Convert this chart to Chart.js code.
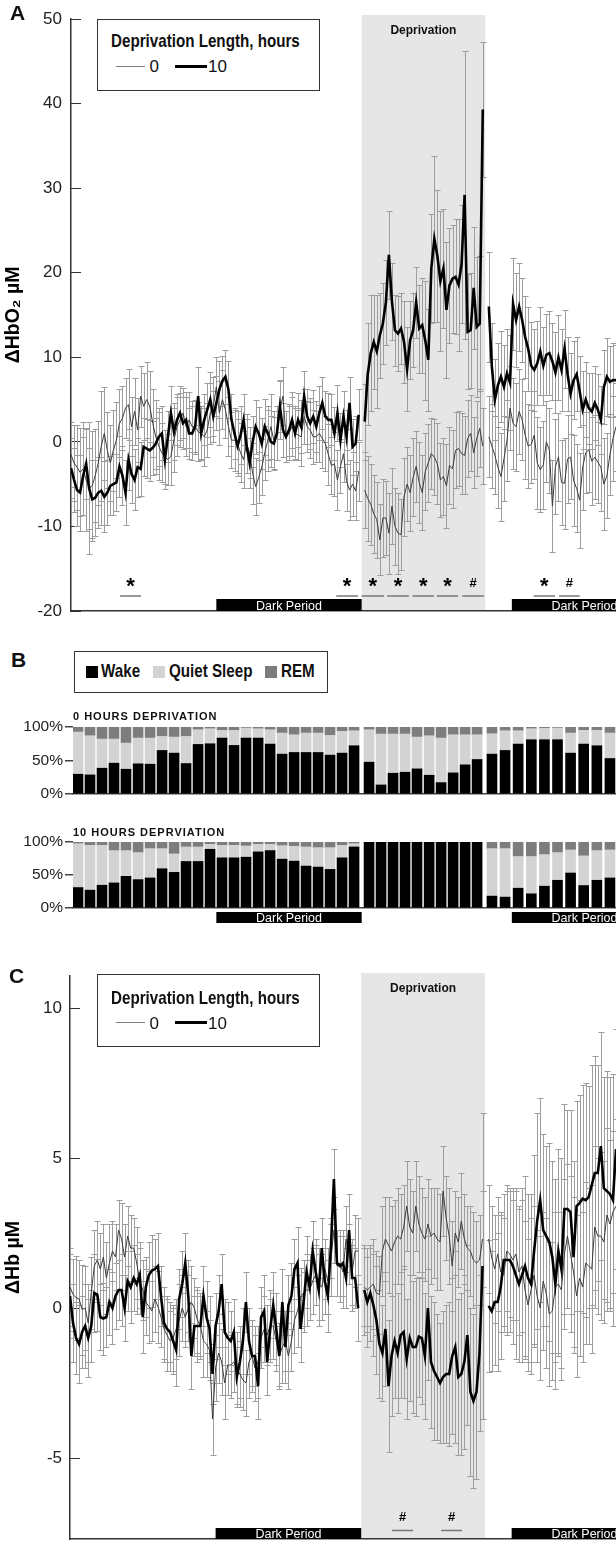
<!DOCTYPE html>
<html lang="en">
<head>
<meta charset="utf-8">
<title>HbO2 / Hb and sleep deprivation</title>
<script src="https://cdn.jsdelivr.net/npm/chart.js@4.4.1/dist/chart.umd.min.js"></script>
<style>
html, body { margin: 0; padding: 0; width: 616px; height: 1541px; overflow: hidden; background: #fff; }
body { position: relative; color: #111; font-family: "Liberation Sans", Arial, sans-serif; }
canvas { position: absolute; left: 0; }
.letter { position: absolute; font: bold 21px/21px "Liberation Sans", Arial, sans-serif; }
.box { position: absolute; box-sizing: border-box; border: 1.5px solid #333; background: #fff; }
.abs { position: absolute; white-space: nowrap; line-height: 1; }
.narrow { font-family: "Liberation Sans Narrow", "Arial Narrow", "Liberation Sans", sans-serif; font-weight: bold; font-size: 18.5px; }
.fake-narrow .narrow { font-family: "Liberation Sans", Arial, sans-serif; transform: scaleX(0.82); transform-origin: left top; }
.reg { font-size: 17px; }
.sq { position: absolute; width: 12px; height: 12px; }
</style>
</head>
<body>
<canvas id="chartA" width="616" height="625" style="top:0"></canvas>
<canvas id="chartB0" width="616" height="110" style="top:700px"></canvas>
<canvas id="chartB10" width="616" height="115" style="top:815px"></canvas>
<canvas id="chartC" width="616" height="620" style="top:940px"></canvas>

<div class="letter" style="left:10px;top:2px">A</div>
<div class="letter" style="left:11px;top:649px">B</div>
<div class="letter" style="left:9px;top:965px">C</div>

<div class="box" style="left:97px;top:19px;width:223px;height:72px">
  <div class="abs narrow" style="left:12.5px;top:12px">Deprivation Length, hours</div>
  <div class="abs" style="left:17.5px;top:45.7px;width:29px;height:1px;background:#808080"></div>
  <div class="abs reg" style="left:51.5px;top:38.3px">0</div>
  <div class="abs" style="left:76.5px;top:44.7px;width:32px;height:3px;background:#000"></div>
  <div class="abs reg" style="left:110px;top:38.3px">10</div>
</div>

<div class="box" style="left:74px;top:651px;width:254px;height:42px">
  <div class="sq" style="left:10.5px;top:13.5px;background:#000"></div>
  <div class="abs narrow" style="left:25.5px;top:10.1px">Wake</div>
  <div class="sq" style="left:77.8px;top:13.5px;background:#d3d3d3"></div>
  <div class="abs narrow" style="left:93.8px;top:10.1px">Quiet Sleep</div>
  <div class="sq" style="left:189.5px;top:13.5px;background:#7d7d7d"></div>
  <div class="abs narrow" style="left:205.5px;top:10.1px">REM</div>
</div>

<div class="box" style="left:97px;top:974px;width:223px;height:73px">
  <div class="abs narrow" style="left:12.5px;top:13.8px">Deprivation Length, hours</div>
  <div class="abs" style="left:17.5px;top:47.3px;width:29px;height:1px;background:#808080"></div>
  <div class="abs reg" style="left:51.5px;top:39.6px">0</div>
  <div class="abs" style="left:76.5px;top:46.3px;width:32px;height:3px;background:#000"></div>
  <div class="abs reg" style="left:110px;top:39.6px">10</div>
</div>

<script>
// 15-min bins, hours from start of recording
const hours = Array.from({ length: 181 }, (_, i) => i / 4);

// A: ΔHbO2 (µM), mean and SEM, null = break between recording blocks
const hbo2Zero = [
  -1.5, -2.5, -3.0, -3.6, -3.2, -4.5, -5.5, -5.2, -4.0, -2.5,
  -0.5, 1.0, -1.0, -2.5, -1.0, 0.2, 2.2, 2.8, 4.0, 4.4,
  1.8, 3.6, 1.4, 5.4, 4.2, 5.0, 4.2, 2.2, 0.6, -0.5,
  -1.3, -1.8, -2.1, -1.7, 0.2, 1.8, 2.6, 3.4, 1.8, 2.6,
  1.8, 1.8, 1.2, 1.0, 0.6, 1.4, 3.4, 4.2, 6.5, 3.4,
  5.0, 3.8, 1.8, 0.2, 0.2, -0.2, -1.3, -2.1, -0.2, -1.3,
  -3.7, -5.3, -4.2, -3.0, -1.3, 0.2, 1.8, 0.2, 1.0, 3.8,
  5.4, 0.6, 1.0, 1.8, 1.0, 0.8, 0.6, 3.0, 1.8, 1.4,
  0.6, 0.6, 1.0, 0.4, -0.2, -1.5, -2.8, -2.6, -4.5, -2.9,
  -1.4, -4.6, -5.7, -5.0, -5.8, -3.5,
  null,
  -5.7, -6.7, -7.4, -8.5, -9.2, -11.6, -9.0, -9.0, -10.8, -7.6,
  -10.0, -10.8, -11.0, -6.5, -5.0, -6.0, -4.2, -2.9, -4.8, -6.0,
  -3.5, -2.5, -1.4, -1.8, -2.6, -4.5, -4.1, -5.2, -2.8, -3.2,
  -1.0, -0.8, -1.4, -1.6, 0.4, 1.0, -1.3, 0.4, 1.6, -0.5,
  null,
  0.6, -0.5, -1.6, -3.0, -4.1, -2.0, 0.2, 4.0, 2.2, 1.8,
  3.6, 2.6, 0.8, -0.5, -0.3, 0.8, -2.5, -3.3, -2.7, 0.0,
  -1.0, -7.6, -2.9, -1.8, -4.8, -4.9, -2.0, -1.8, -4.6, -5.5,
  -6.9, -3.0, -1.3, -0.9, -2.3, -1.8, -2.4, -3.0, -5.0, -4.0,
  -1.5, 0.4, 1.8
];
const hbo2ZeroSem = [
  3.8, 4.5, 5.0, 5.2, 5.5, 6.0, 7.8, 6.5, 5.5, 5.0,
  6.5, 5.5, 4.5, 4.5, 4.8, 4.5, 4.0, 3.8, 3.5, 4.2,
  3.5, 4.0, 3.8, 3.6, 4.0, 4.5, 4.2, 4.0, 4.4, 4.0,
  3.5, 3.2, 3.0, 3.4, 3.8, 3.5, 3.2, 3.0, 3.5, 3.3,
  3.0, 3.2, 3.5, 3.0, 3.4, 3.2, 3.6, 3.5, 3.5, 3.8,
  3.5, 3.4, 3.5, 3.3, 3.6, 3.8, 3.5, 3.4, 3.5, 3.0,
  3.6, 3.4, 3.0, 3.3, 3.2, 3.6, 3.8, 3.4, 3.2, 3.5,
  3.4, 3.0, 3.2, 3.5, 3.2, 3.0, 3.4, 3.2, 3.0, 3.3,
  3.2, 3.0, 3.4, 3.5, 3.2, 3.6, 3.4, 3.8, 3.5, 3.2,
  3.4, 3.6, 3.5, 3.8, 3.4, 3.5,
  null,
  4.5, 5.0, 4.8, 4.6, 4.5, 4.2, 4.6, 4.4, 4.8, 4.5,
  4.6, 4.8, 4.2, 4.6, 4.4, 4.5, 4.6, 4.2, 4.8, 4.4,
  4.5, 4.6, 4.2, 4.5, 4.8, 4.4, 4.6, 5.0, 4.5, 4.6,
  4.5, 4.4, 4.8, 4.6, 4.5, 4.5, 4.2, 4.4, 4.6, 4.5,
  null,
  4.8, 5.0, 4.6, 4.8, 5.2, 5.0, 4.8, 5.0, 5.4, 5.2,
  5.0, 4.8, 5.2, 5.0, 4.6, 5.2, 5.4, 5.0, 5.2, 4.8,
  5.0, 5.4, 5.6, 5.2, 5.0, 5.4, 5.2, 5.0, 5.4, 5.2,
  5.6, 5.0, 4.8, 5.0, 5.2, 5.0, 4.8, 5.2, 5.4, 5.0,
  4.8, 5.0, 5.2
];
const hbo2Ten = [
  -3.1, -4.5, -5.7, -6.0, -4.0, -2.6, -5.5, -6.8, -6.6, -6.0,
  -5.8, -6.5, -6.0, -5.2, -5.0, -4.8, -2.9, -4.0, -6.0, -2.1,
  -3.8, -4.5, -3.0, -3.2, -0.6, -0.8, -1.0, -0.7, -0.2, 0.6,
  1.0, -2.1, 0.6, 3.4, 1.2, 2.6, 3.4, 2.2, 2.6, 1.0,
  1.0, 1.8, 5.4, 1.0, 2.6, 3.8, 5.0, 3.0, 4.6, 6.2,
  7.2, 7.7, 6.2, 2.6, 1.0, -0.5, 0.8, 2.6, -0.5, -2.5,
  0.0, 1.8, 1.0, -0.2, 1.8, 1.0, 0.0, -0.2, 1.0, 4.2,
  1.4, 0.6, 1.4, 2.6, 1.0, 2.6, 1.8, 5.4, 3.0, 2.2,
  3.0, 1.8, 3.4, 4.6, 3.0, 2.6, 2.6, 1.0, 3.4, 0.2,
  3.0, 0.6, 4.6, -0.6, -0.2, 3.2,
  null,
  2.4, 8.0, 10.5, 11.8, 10.7, 12.6, 14.0, 16.5, 22.1, 16.6,
  13.2, 12.8, 13.4, 11.8, 8.6, 12.0, 13.2, 16.5, 13.4, 13.8,
  12.0, 9.7, 20.5, 24.0, 22.0, 19.0, 20.5, 15.6, 18.5, 19.3,
  19.5, 18.6, 21.0, 29.2, 13.0, 13.2, 18.2, 13.6, 14.0, 39.3,
  null,
  16.0, 8.9, 5.0, 6.7, 7.7, 6.5, 8.1, 7.0, 16.3, 14.4,
  16.0, 14.4, 12.4, 11.0, 9.0, 8.5, 9.3, 10.7, 9.0, 10.3,
  10.5, 9.5, 8.2, 10.0, 8.5, 11.0, 8.0, 5.7, 7.3, 8.0,
  6.0, 3.8, 5.0, 4.0, 3.6, 4.6, 3.8, 2.6, 6.5, 7.7,
  7.1, 7.3, 7.3
];
const hbo2TenSem = [
  3.5, 3.8, 4.2, 4.5, 4.6, 4.2, 4.8, 4.6, 4.5, 4.2,
  4.0, 4.2, 3.8, 3.5, 3.6, 3.4, 3.6, 3.5, 3.8, 3.6,
  3.4, 3.6, 3.5, 3.2, 3.4, 3.5, 3.6, 3.2, 3.0, 3.4,
  3.2, 3.5, 3.0, 3.2, 3.4, 3.0, 3.2, 3.1, 3.3, 3.0,
  3.2, 3.0, 3.4, 3.2, 3.0, 3.2, 3.3, 3.0, 3.2, 3.4,
  3.0, 3.2, 3.4, 3.1, 3.0, 3.2, 3.4, 3.0, 3.2, 3.0,
  3.0, 3.2, 3.1, 3.0, 3.3, 3.2, 3.0, 3.1, 3.2, 3.0,
  3.2, 3.0, 3.1, 3.3, 3.0, 3.2, 3.1, 3.0, 3.2, 3.0,
  3.1, 3.0, 3.2, 3.1, 3.0, 3.2, 3.0, 3.1, 3.3, 3.2,
  3.0, 3.2, 3.1, 3.3, 3.2, 3.0,
  null,
  4.5, 6.0, 6.9, 5.6, 6.7, 5.0, 4.8, 5.0, 5.2, 4.6,
  4.2, 4.4, 4.2, 4.8, 5.0, 4.6, 4.4, 4.2, 5.2, 5.6,
  7.0, 6.0, 6.4, 9.8, 7.8, 8.3, 7.0, 8.0, 6.8, 6.4,
  6.8, 7.8, 7.0, 17.0, 6.8, 6.8, 7.2, 8.3, 8.0, 8.0,
  null,
  6.5, 5.2, 4.8, 5.0, 5.4, 5.0, 5.2, 5.6, 5.4, 5.6,
  5.2, 5.0, 4.8, 5.0, 5.2, 4.8, 5.0, 5.2, 4.6, 4.8,
  5.0, 4.6, 4.8, 5.0, 4.8, 4.6, 4.4, 4.8, 4.6, 4.4,
  4.2, 4.6, 4.4, 4.2, 4.5, 4.4, 4.2, 4.0, 4.4, 4.6,
  4.2, 4.4, 4.2
];

// C: ΔHb (µM)
const hbZero = [
  0.7, 0.45, 0.35, 0.3, -0.05, 0.0, -0.5, 0.5, 1.4, 1.6,
  1.3, 1.7, 1.0, 1.5, 1.9, 1.7, 2.6, 2.3, 1.7, 2.4,
  2.0, 2.0, 1.5, 0.9, 0.6, 0.2, 0.05, -0.1, 0.3, 0.05,
  -0.3, -0.7, -0.9, -1.1, -1.0, -0.7, -0.4, 0.0, -0.3, 0.0,
  0.2, 0.0, -0.4, -0.6, -1.1, -1.2, -1.4, -3.7, -2.0, -1.5,
  -1.8, -2.5, -1.9, -1.9, -1.8, -2.0, -2.2, -2.4, -2.5, -1.8,
  -1.6, -2.0, -1.8, -1.0, -0.7, -0.9, -0.6, -0.6, -1.1, -1.6,
  -1.3, -1.1, -1.6, -1.1, -0.4, -0.1, 0.35, 0.5, 0.6, 0.6,
  0.9, 1.1, 0.8, 0.7, 1.3, 0.9, 1.6, 2.6, 1.4, 1.5,
  1.2, 2.3, 1.8, 1.2, 1.9, 1.9,
  null,
  0.7, 0.6, 0.7, 0.8, 0.5, 0.45, 1.9, 2.3, 2.1, 1.9,
  2.2, 2.4, 2.3, 2.7, 3.4, 2.7, 2.5, 3.4, 2.8, 2.5,
  2.3, 2.8, 2.4, 2.5, 2.3, 2.2, 3.9, 3.0, 2.4, 1.4,
  2.5, 2.2, 2.9, 2.3, 2.0, 1.9, 1.6, 1.5, 1.6, 2.3,
  null,
  2.3, 1.7, 1.3, 1.8, 1.2, 1.1, 1.9, 1.8, 1.6, 1.8,
  1.2, 1.4, 0.6, 0.1, 0.6, 1.1, 0.4, 0.0, 0.9, 0.5,
  -0.2, -0.1, 0.7, 0.8, 0.6, 1.8, 2.4, 1.8, 1.2, 0.4,
  1.0, 0.7, 1.5, 1.4, 1.3, 2.7, 2.4, 2.4, 2.2, 3.1,
  2.8, 3.2, 3.4
];
const hbZeroSem = [
  1.3, 1.2, 1.4, 1.3, 1.5, 1.4, 1.3, 1.2, 1.2, 1.3,
  1.2, 1.1, 1.2, 1.3, 1.0, 1.1, 1.0, 1.2, 1.1, 1.0,
  1.1, 1.0, 1.2, 1.1, 1.0, 1.1, 1.2, 1.0, 1.1, 1.2,
  1.0, 1.1, 1.2, 1.0, 1.1, 1.0, 1.2, 1.1, 1.0, 1.1,
  1.2, 1.0, 1.1, 1.0, 1.2, 1.1, 1.0, 1.2, 1.1, 1.0,
  1.1, 1.2, 1.0, 1.1, 1.0, 1.2, 1.1, 1.0, 1.1, 1.2,
  1.0, 1.1, 1.2, 1.0, 1.1, 1.0, 1.2, 1.1, 1.0, 1.1,
  1.2, 1.0, 1.1, 1.0, 1.1, 1.2, 1.0, 1.1, 1.2, 1.0,
  1.1, 1.0, 1.2, 1.1, 1.0, 1.1, 1.2, 1.1, 1.0, 1.1,
  1.2, 1.1, 1.0, 1.1, 1.2, 1.1,
  null,
  1.3, 1.4, 1.3, 1.5, 1.4, 1.3, 1.5, 1.4, 1.6, 1.5,
  1.4, 1.6, 1.5, 1.4, 1.5, 1.6, 1.4, 1.5, 1.6, 1.5,
  1.4, 1.5, 1.6, 1.5, 1.7, 1.6, 1.5, 1.4, 1.6, 1.5,
  1.4, 1.5, 1.6, 1.5, 1.4, 1.5, 1.6, 1.4, 1.5, 1.6,
  null,
  1.8, 1.7, 1.8, 1.9, 2.0, 1.9, 2.0, 2.1, 2.0, 2.2,
  2.1, 2.2, 2.3, 2.2, 2.4, 2.3, 2.2, 2.4, 2.3, 2.5,
  2.4, 2.3, 2.5, 2.4, 2.6, 2.5, 2.4, 2.6, 2.5, 2.7,
  2.6, 2.5, 2.7, 2.6, 2.8, 2.7, 2.6, 2.8, 2.7, 2.9,
  2.8, 2.7, 2.9
];
const hbTen = [
  0.4, -0.5, -1.0, -1.2, -0.8, -0.6, -1.0, -0.6, 0.5, 0.45,
  -0.3, -0.35, -0.3, 0.2, 0.0, 0.4, 0.6, 0.6, 0.0, 0.9,
  0.7, 1.0, 0.8, 1.1, -0.3, 0.7, 1.1, 1.25, 1.3, 1.4,
  0.4, -0.5, -0.7, -0.8, -1.1, -1.4, 0.3, 0.8, 1.5, 0.4,
  -1.6, -0.6, -0.6, -0.6, 0.4, -0.3, -0.7, -2.2, -0.6, -0.1,
  0.8, -0.8, -1.0, -1.1, -0.8, -2.3, -1.8, -1.1, 0.2, -1.1,
  -1.6, -1.6, -2.6, -0.3, -0.1, -1.8, -0.7, 0.1, -0.7, -1.6,
  0.2, -1.3, 0.1, 0.4, 1.3, 1.5, -0.7, 0.2, 1.2, 0.7,
  1.9, 1.2, 0.6, 2.0, 0.9, 0.4, 2.0, 4.3, 1.5, 1.4,
  1.5, 1.0, 2.6, 1.0, 1.0, 0.0,
  null,
  0.6, 0.2, 0.5, 0.1, -0.4, -1.2, -1.5, -0.7, -2.6, -1.6,
  -1.1, -1.5, -0.9, -0.8, -1.7, -1.0, -1.3, -1.3, -0.95, -1.0,
  -1.6, 0.0, -1.8, -2.1, -2.3, -2.5, -2.3, -2.2, -2.2, -1.6,
  -1.3, -2.3, -2.2, -1.8, -0.9, -2.8, -3.1, -2.8, -1.5, 1.4,
  null,
  0.07, -0.1, 0.2, 0.2, 0.7, 1.6, 1.6, 1.6, 1.4, 1.1,
  0.8, 1.1, 1.4, 1.0, 0.8, 1.9, 2.9, 3.6, 2.6, 2.4,
  2.2, 1.7, 0.8, 1.9, 1.3, 3.3, 3.3, 3.2, 1.7, 3.4,
  3.5, 3.65, 3.6, 3.7, 4.1, 4.5, 4.5, 5.4, 4.0, 3.9,
  3.8, 3.6, 5.3
];
const hbTenSem = [
  1.4, 1.3, 1.2, 1.3, 1.2, 1.4, 1.3, 1.2, 1.3, 1.2,
  1.1, 1.2, 1.0, 1.1, 1.2, 1.1, 1.0, 1.2, 1.1, 1.0,
  1.2, 1.1, 1.0, 1.1, 1.2, 1.0, 1.1, 1.2, 1.0, 1.1,
  1.0, 1.2, 1.1, 1.0, 1.1, 1.2, 1.0, 1.1, 1.0, 1.2,
  1.1, 1.0, 1.2, 1.1, 1.0, 1.2, 1.1, 1.0, 1.1, 1.2,
  1.0, 1.1, 1.2, 1.0, 1.1, 1.0, 1.2, 1.1, 1.0, 1.1,
  1.2, 1.0, 1.1, 1.0, 1.2, 1.1, 1.0, 1.1, 1.2, 1.0,
  1.1, 1.2, 1.0, 1.1, 1.0, 1.2, 1.1, 1.0, 1.2, 1.1,
  1.0, 1.1, 1.2, 1.0, 1.1, 1.2, 1.0, 1.0, 1.1, 1.2,
  1.1, 1.0, 1.2, 1.1, 1.0, 1.1,
  null,
  1.5, 1.5, 1.6, 1.7, 1.8, 1.8, 1.6, 1.9, 2.2, 2.0,
  1.9, 2.0, 2.1, 2.2, 2.0, 2.1, 2.2, 2.3, 2.0, 2.2,
  2.1, 2.4, 2.2, 2.3, 2.1, 2.0, 2.2, 2.3, 2.4, 2.6,
  3.2, 2.6, 2.7, 2.9, 3.0, 2.8, 2.9, 2.9, 2.6, 5.1,
  null,
  2.2, 2.0, 2.1, 2.3, 2.4, 2.2, 2.5, 2.4, 2.6, 2.8,
  2.6, 2.9, 3.0, 2.8, 3.0, 3.2, 3.6, 3.4, 3.2, 3.0,
  3.3, 3.2, 3.5, 3.4, 3.7, 3.5, 3.3, 3.4, 3.2, 3.5,
  3.6, 3.8, 3.9, 3.7, 4.0, 3.9, 3.6, 3.8, 3.7, 4.0,
  3.9, 4.2, 4.0
];

// B: % of each hourly bin spent in each state
const sleepStates = ["Wake", "Quiet Sleep", "REM"];
const sleepHours = [
  0.58, 1.57, 2.56, 3.55, 4.54, 5.54, 6.53, 7.52, 8.51, 9.50, 10.49, 11.48,
  12.47, 13.46, 14.45, 15.45, 16.44, 17.43, 18.42, 19.41, 20.40, 21.39, 22.38, 23.37,
  24.61, 25.60, 26.59, 27.58, 28.57, 29.57, 30.56, 31.55, 32.54, 33.53,
  34.76, 35.84, 36.92, 38.01, 39.09, 40.17, 41.25, 42.33, 43.42, 44.50
];
const wake0 = [
  29.5, 28.5, 38.5, 46, 37, 45, 44.5, 65, 61, 45.5, 74, 75,
  83.5, 72.5, 83.5, 83.5, 74.5, 59.5, 62, 62, 62, 58, 61, 72,
  47.5, 13.5, 31, 32.5, 37.5, 28, 17, 31.5, 43.5, 51.5,
  59.5, 65, 74.5, 81, 81, 81, 61, 74.5, 72, 53
];
const quiet0 = [
  63, 58.5, 43.5, 36, 39, 38.5, 39, 21, 24, 40.5, 22, 22.5,
  11.5, 22.5, 15, 14, 21.5, 31.5, 26.5, 29, 29, 29.5, 32.5, 22.5,
  48.5, 76, 58.5, 57, 47.5, 59, 66.5, 57, 45, 37,
  30.5, 29.5, 20, 16.5, 17, 17.5, 30, 20.5, 23, 38
];
const rem0 = [
  7.5, 13, 18, 18, 24, 16.5, 16.5, 14, 15, 14, 4, 2.5,
  5, 5, 1.5, 2.5, 4, 9, 11.5, 9, 9, 12.5, 6.5, 5.5,
  4, 10.5, 10.5, 10.5, 15, 13, 16.5, 11.5, 11.5, 11.5,
  10, 5.5, 5.5, 2.5, 2, 1.5, 9, 5, 5, 9
];
const wake10 = [
  31, 27, 34.5, 38, 48, 43, 45.5, 59.5, 54, 70.5, 70.5, 89,
  76, 76, 77, 85, 87, 74, 71, 63.5, 62, 58.5, 76, 92.5,
  100, 100, 100, 100, 100, 100, 100, 100, 100, 100,
  18, 16.5, 30, 21.5, 33, 42, 53, 34, 42, 45.5
];
const quiet10 = [
  66.5, 68, 60.5, 49, 39, 41, 44.5, 30.5, 28, 22, 22, 7.5,
  19, 19, 17, 11.5, 9.5, 20.5, 22.5, 29, 29.5, 33, 19, 5,
  0, 0, 0, 0, 0, 0, 0, 0, 0, 0,
  72, 73.5, 48, 56.5, 48, 42, 35, 45, 45, 42.5
];
const rem10 = [
  2.5, 5, 5, 13, 13, 16, 10, 10, 18, 7.5, 7.5, 3.5,
  5, 5, 6, 3.5, 3.5, 5.5, 6.5, 7.5, 8.5, 8.5, 5, 2.5,
  0, 0, 0, 0, 0, 0, 0, 0, 0, 0,
  10, 10, 22, 22, 19, 16, 12, 21, 13, 12
];

// ticks, lights-off and deprivation windows (hours), significance windows
const hbo2Ticks = [50, 40, 30, 20, 10, 0, -10, -20];
const hbTicks = [10, 5, 0, -5];
const pctTicks = [0, 50, 100];
const deprivation = [24, 34.2];
const darkPeriods = [[12, 24], [36.4, 48.4]];
const sigHbo2 = [
  [4.05, 5.78, "*"], [21.9, 23.7, "*"], [24.0, 25.85, "*"], [26.1, 27.9, "*"],
  [28.2, 29.97, "*"], [30.2, 31.96, "*"], [32.3, 34.1, "#"], [38.2, 39.97, "*"], [40.3, 42.0, "#"]
];
const sigHb = [[26.54, 28.27, "#"], [30.58, 32.31, "#"]];

const SANS = '"Liberation Sans", Arial, sans-serif';
let NARROW = '"Liberation Sans Narrow", "Arial Narrow", "Liberation Sans", sans-serif';

// is there a real narrow face? if not squeeze the html labels
const probe = document.createElement("canvas").getContext("2d");
probe.font = 'bold 20px "Liberation Sans"';
const wideW = probe.measureText("Deprivation Length").width;
probe.font = "bold 20px " + NARROW;
if (probe.measureText("Deprivation Length").width > wideW * 0.95) {
  document.body.classList.add("fake-narrow");
  NARROW = SANS;
}

// fixed axis box, and no extra label padding pushed into the chart area
const fixAxis = (w) => (s) => {
  s.width = w;
  s.paddingTop = 0;
  s.paddingBottom = 0;
};

// shading, error bars, dark period bars, significance marks
const makeDecor = (cfg) => ({
  id: "decor",
  beforeDraw(chart) {
    if (!cfg.shade) return;
    const { ctx, chartArea: a, scales: { x } } = chart;
    const x0 = x.getPixelForValue(cfg.shade[0]);
    const x1 = x.getPixelForValue(cfg.shade[1]);
    ctx.save();
    ctx.fillStyle = "#e6e6e6";
    ctx.fillRect(x0, a.top - cfg.shadeRise, x1 - x0, a.bottom - a.top + cfg.shadeRise);
    ctx.fillStyle = "#111";
    ctx.font = "bold 12px " + SANS;
    ctx.textAlign = "center";
    ctx.fillText("Deprivation", (x0 + x1) / 2, a.top + cfg.shadeLabelDy);
    ctx.restore();
  },
  beforeDatasetsDraw(chart) {
    if (!cfg.errorBars) return;
    const { ctx, chartArea: a, scales: { x, y } } = chart;
    ctx.save();
    ctx.beginPath();
    ctx.rect(a.left, a.top, a.right - a.left, a.bottom - a.top);
    ctx.clip();
    ctx.strokeStyle = "#9d9d9d";
    ctx.lineWidth = 1;
    ctx.beginPath();
    chart.data.datasets.forEach((ds) => {
      ds.data.forEach((v, i) => {
        if (v === null) return;
        const e = ds.sem[i];
        const px = Math.round(x.getPixelForValue(hours[i])) + 0.5;
        const lo = Math.round(y.getPixelForValue(v - e)) + 0.5;
        const hi = Math.round(y.getPixelForValue(v + e)) + 0.5;
        ctx.moveTo(px, lo); ctx.lineTo(px, hi);
        ctx.moveTo(px - 3, lo); ctx.lineTo(px + 3, lo);
        ctx.moveTo(px - 3, hi); ctx.lineTo(px + 3, hi);
      });
    });
    ctx.stroke();
    ctx.restore();
  },
  afterDatasetsDraw(chart) {
    const { ctx, chartArea: a, scales: { x } } = chart;
    ctx.save();
    if (cfg.dark) {
      darkPeriods.forEach(([s, e]) => {
        const x0 = x.getPixelForValue(s);
        const x1 = x.getPixelForValue(e);
        const top = a.bottom + cfg.dark.dy;
        ctx.fillStyle = "#000";
        ctx.fillRect(x0, top, x1 - x0, cfg.dark.h);
        ctx.fillStyle = "#fff";
        ctx.font = "12.5px " + SANS;
        ctx.textAlign = "center";
        ctx.fillText("Dark Period", (x0 + x1) / 2, top + cfg.dark.h - 1.5);
      });
    }
    if (cfg.marks) {
      cfg.marks.list.forEach(([s, e, t]) => {
        const x0 = x.getPixelForValue(s);
        const x1 = x.getPixelForValue(e);
        ctx.strokeStyle = "#777";
        ctx.lineWidth = 1.5;
        ctx.beginPath();
        ctx.moveTo(x0, a.bottom - cfg.marks.line);
        ctx.lineTo(x1, a.bottom - cfg.marks.line);
        ctx.stroke();
        ctx.fillStyle = "#000";
        ctx.font = t === "*" ? "bold 22px " + SANS : "bold 13px " + SANS;
        ctx.textAlign = "center";
        const m = ctx.measureText(t);
        const cy = a.bottom - cfg.marks.sym;
        ctx.fillText(t, (x0 + x1) / 2, cy + (m.actualBoundingBoxAscent - m.actualBoundingBoxDescent) / 2);
      });
    }
    if (cfg.subtitle) {
      ctx.fillStyle = "#111";
      ctx.font = "bold 11px " + SANS;
      ctx.letterSpacing = "1px";
      ctx.textAlign = "left";
      ctx.fillText(cfg.subtitle, 73, a.top + cfg.subtitleDy);
    }
    ctx.restore();
  },
});

const hbChart = (id, cfg) =>
  new Chart(document.getElementById(id), {
    type: "line",
    data: {
      labels: hours,
      datasets: [
        { label: "10", data: cfg.ten, sem: cfg.tenSem, borderColor: "#000", borderWidth: 2.6, order: 0 },
        { label: "0", data: cfg.zero, sem: cfg.zeroSem, borderColor: "#3c3c3c", borderWidth: 1, order: 1 },
      ],
    },
    options: {
      responsive: false,
      animation: false,
      devicePixelRatio: 1,
      spanGaps: false,
      elements: { point: { radius: 0 }, line: { tension: 0, fill: false } },
      layout: { padding: { top: cfg.padTop, bottom: cfg.padBottom, left: 0, right: 0 } },
      plugins: { legend: { display: false }, tooltip: { enabled: false } },
      scales: {
        x: {
          type: "linear", min: 0, max: 45,
          ticks: { display: false },
          grid: { display: false },
          border: { color: "#333", width: 1.5 },
          afterFit: (s) => { s.height = 0; },
        },
        y: {
          min: cfg.yMin, max: cfg.yMax,
          afterFit: fixAxis(cfg.axisLeft),
          afterBuildTicks: (s) => { s.ticks = cfg.ticks.map((v) => ({ value: v })); },
          ticks: { padding: cfg.axisLeft - 62 + 10, color: "#222", font: { family: SANS, size: 17 } },
          grid: { drawOnChartArea: false, tickLength: -10, color: "#333", lineWidth: 1 },
          border: { color: "#333", width: 1.5 },
          title: {
            display: true, text: cfg.yTitle, color: "#000",
            font: { family: SANS, size: 19.5, weight: "bold" },
            padding: { top: 2.4, bottom: 0 },
          },
        },
      },
    },
    plugins: [makeDecor(cfg.decor)],
  });

const sleepChart = (id, wake, quiet, rem, cfg) => {
  const pts = (arr) => arr.map((v, i) => ({ x: sleepHours[i], y: v }));
  return new Chart(document.getElementById(id), {
    type: "bar",
    data: {
      datasets: [
        { label: sleepStates[0], data: pts(wake), backgroundColor: "#000" },
        { label: sleepStates[1], data: pts(quiet), backgroundColor: "#d3d3d3" },
        { label: sleepStates[2], data: pts(rem), backgroundColor: "#7d7d7d" },
      ],
    },
    options: {
      responsive: false,
      animation: false,
      devicePixelRatio: 1,
      datasets: { bar: { barThickness: 10 } },
      layout: { padding: { top: cfg.padTop, bottom: cfg.padBottom, left: 0, right: 0 } },
      plugins: { legend: { display: false }, tooltip: { enabled: false } },
      scales: {
        x: {
          type: "linear", min: 0.165, max: 45, offset: false, stacked: true,
          ticks: { display: false },
          grid: { display: false },
          border: { color: "#444", width: 1.5 },
          afterFit: (s) => { s.height = 0; },
        },
        y: {
          stacked: true, min: 0, max: 100,
          afterFit: fixAxis(73),
          afterBuildTicks: (s) => { s.ticks = pctTicks.map((v) => ({ value: v })); },
          ticks: { padding: 2, color: "#222", font: { family: SANS, size: 15.5 }, callback: (v) => v + "%" },
          grid: { drawOnChartArea: false, tickLength: 8, color: "#444", lineWidth: 1.5 },
          border: { display: false },
        },
      },
    },
    plugins: [makeDecor(cfg.decor)],
  });
};

hbChart("chartA", {
  zero: hbo2Zero, zeroSem: hbo2ZeroSem, ten: hbo2Ten, tenSem: hbo2TenSem,
  yMin: -20, yMax: 50, ticks: hbo2Ticks, yTitle: "ΔHbO₂ µM",
  axisLeft: 71, padTop: 19, padBottom: 14,
  decor: {
    shade: deprivation, shadeRise: 4, shadeLabelDy: 15, errorBars: true,
    dark: { dy: -12, h: 12 },
    marks: { list: sigHbo2, line: 15, sym: 28.5 },
  },
});

sleepChart("chartB0", wake0, quiet0, rem0, {
  padTop: 27, padBottom: 16,
  decor: { subtitle: "0 HOURS DEPRIVATION", subtitleDy: -7 },
});

sleepChart("chartB10", wake10, quiet10, rem10, {
  padTop: 27, padBottom: 22,
  decor: { subtitle: "10 HOURS DEPRVIATION", subtitleDy: -6, dark: { dy: 4, h: 11 } },
});

hbChart("chartC", {
  zero: hbZero, zeroSem: hbZeroSem, ten: hbTen, tenSem: hbTenSem,
  yMin: -7.7, yMax: 11.07, ticks: hbTicks, yTitle: "ΔHb µM",
  axisLeft: 70, padTop: 36, padBottom: 21,
  decor: {
    shade: deprivation, shadeRise: 3, shadeLabelDy: 15.7, errorBars: true,
    dark: { dy: -11, h: 11 },
    marks: { list: sigHb, line: 8.5, sym: 23 },
  },
});
</script>
</body>
</html>
